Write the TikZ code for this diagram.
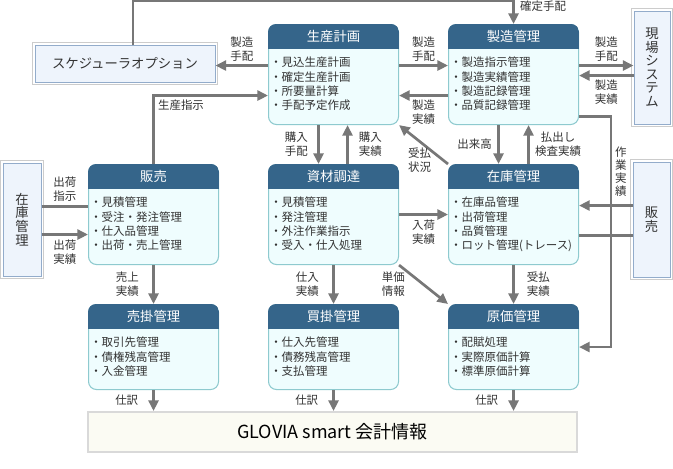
\documentclass[tikz,border=0pt]{standalone}
\usepackage{fontspec}
\setmainfont{Noto Sans CJK JP}
\usetikzlibrary{arrows.meta}
\definecolor{hdrblue}{HTML}{35658A}
\definecolor{bodyfill}{HTML}{EFFDFE}
\definecolor{bodyline}{HTML}{8ECACF}
\definecolor{arrowgray}{HTML}{777777}
\definecolor{extfill}{HTML}{EEF4FC}
\definecolor{extline}{HTML}{93ACCB}
\definecolor{txtgray}{HTML}{333333}
\definecolor{glvfill}{HTML}{FBFBF3}
\begin{document}
\begin{tikzpicture}[x=0.75pt,y=-0.75pt,
  modbox/.style={draw=bodyline,fill=bodyfill,line width=0.8pt,rounded corners=6pt,
    minimum width=97.5pt,minimum height=75pt,inner sep=0pt,anchor=north west},
  lowbox/.style={modbox,minimum height=63.75pt},
  hdrtext/.style={text=white,font=\fontsize{10}{12}\selectfont},
  items/.style={anchor=north west,align=left,inner sep=0pt,text=txtgray,
    font=\fontsize{8.6}{10.7}\selectfont},
  extbox/.style={draw=extline,fill=extfill,line width=0.75pt,inner sep=0pt,
    text=txtgray,font=\fontsize{10}{10.2}\selectfont,align=center},
  glvbox/.style={draw=black!15,fill=glvfill,line width=1.5pt,inner sep=0pt,
    minimum width=366.75pt,minimum height=30pt,font=\fontsize{13.5}{16}\selectfont},
  arr/.style={draw=arrowgray,line width=2pt,-{Triangle[length=8pt,width=7.5pt]}},
  ln/.style={draw=arrowgray,line width=2pt},
  lbl/.style={text=txtgray,font=\fontsize{8.6}{10.5}\selectfont,align=center,inner sep=1pt}]
  \useasboundingbox (0,0) rectangle (673,468);
  \fill[white] (0,0) rectangle (673,468);
  % module boxes
  \node[modbox] (plan) at (268,24) {};
  \node[modbox] (mfg) at (448,24) {};
  \node[modbox] (sales) at (88,164) {};
  \node[modbox] (proc) at (268,164) {};
  \node[modbox] (stock) at (448,164) {};
  \node[lowbox] (recv) at (88,304) {};
  \node[lowbox] (pay) at (268,304) {};
  \node[lowbox] (cost) at (448,304) {};
  \foreach \n/\t in {plan/生産計画,mfg/製造管理,sales/販売,proc/資材調達,
      stock/在庫管理,recv/売掛管理,pay/買掛管理,cost/原価管理} {
    \begin{scope}
      \clip[rounded corners=6pt] (\n.north west) rectangle (\n.south east);
      \fill[hdrblue] (\n.north west) rectangle ([shift={(0,25)}]\n.north east);
    \end{scope}
    \node[hdrtext] (\n-title) at ([shift={(0,12.5)}]\n.north) {\t};
  }
  \node[items] (plan-list) at ([shift={(2,33)}]plan.north west)
    {・見込生産計画\\・確定生産計画\\・所要量計算\\・手配予定作成};
  \node[items] (mfg-list) at ([shift={(2,33)}]mfg.north west)
    {・製造指示管理\\・製造実績管理\\・製造記録管理\\・品質記録管理};
  \node[items] (sales-list) at ([shift={(2,33)}]sales.north west)
    {・見積管理\\・受注・発注管理\\・仕入品管理\\・出荷・売上管理};
  \node[items] (proc-list) at ([shift={(2,33)}]proc.north west)
    {・見積管理\\・発注管理\\・外注作業指示\\・受入・仕入処理};
  \node[items] (stock-list) at ([shift={(2,33)}]stock.north west)
    {・在庫品管理\\・出荷管理\\・品質管理\\・ロット管理(トレース)};
  \node[items] (recv-list) at ([shift={(2,33)}]recv.north west)
    {・取引先管理\\・債権残高管理\\・入金管理};
  \node[items] (pay-list) at ([shift={(2,33)}]pay.north west)
    {・仕入先管理\\・債務残高管理\\・支払管理};
  \node[items] (cost-list) at ([shift={(2,33)}]cost.north west)
    {・配賦処理\\・実際原価計算\\・標準原価計算};
  % outside systems
  \node[extbox,minimum width=135pt,minimum height=27.75pt] (sched) at (125,63.5) {スケジューラオプション};
  \node[extbox,minimum width=27pt,minimum height=84.75pt] (site) at (652,67.5) {現\\場\\シ\\ス\\テ\\ム};
  \node[extbox,minimum width=27.75pt,minimum height=86.25pt] (extsales) at (651.5,219.5) {販\\売};
  \node[extbox,minimum width=28.5pt,minimum height=84.75pt] (extstock) at (22,219.5) {在\\庫\\管\\理};
  \foreach \n in {sched,site,extsales,extstock}
    \draw[black!20,line width=0.75pt] ([shift={(-2,-2)}]\n.north west) rectangle ([shift={(2,2)}]\n.south east);
  \node[glvbox] (glovia) at (332.5,432) {GLOVIA smart 会計情報};
  % connectors, top row
  \draw[arr] ([shift={(8,0)}]sched.north) -- ++(0,-43.5) -| (mfg.north)
    node[lbl,pos=0.62,right=3pt] (l-fix) {確定手配};
  \draw[arr] ([shift={(0,-9)}]plan.west) -- ([shift={(0,-9)}]plan.west -| sched.east)
    node[lbl,midway,above=1pt] (l-ps) {製造\\手配};
  \draw[arr] (sales.north) |- ([shift={(0,21)}]plan.west)
    node[lbl,pos=0.62,below=1pt] (l-si) {生産指示};
  \draw[arr] ([shift={(0,-9)}]plan.east) -- ([shift={(0,-9)}]mfg.west)
    node[lbl,midway,above=1pt] (l-pm) {製造\\手配};
  \draw[arr] ([shift={(0,21)}]mfg.west) -- ([shift={(0,21)}]plan.east)
    node[lbl,midway,below=1pt] (l-mp) {製造\\実績};
  \draw[arr] ([shift={(0,-9)}]mfg.east) -- ([shift={(0,-9)}]mfg.east -| site.west)
    node[lbl,midway,above=1pt] (l-ms) {製造\\手配};
  \draw[arr] ([shift={(0,1)}]site.west |- mfg.east) -- ([shift={(0,1)}]mfg.east)
    node[lbl,midway,below=1pt] (l-sm) {製造\\実績};
  \draw[arr] ([shift={(0,42)}]mfg.east) -- ++(32,0) |- (cost.east)
    node[lbl,pos=0.12,right=1pt,font=\fontsize{8.6}{9.8}\selectfont] (l-work) {作\\業\\実\\績};
  % connectors, middle row
  \draw[arr] ([shift={(-15,0)}]mfg.south) -- ([shift={(-15,0)}]stock.north)
    node[lbl,midway,left=3pt] (l-out) {出来高};
  \draw[arr] ([shift={(15,0)}]stock.north) -- ([shift={(15,0)}]mfg.south)
    node[lbl,midway,right=3pt] (l-chk) {払出し\\検査実績};
  \draw[arr] (stock.north west) -- (plan.south east)
    node[lbl,pos=0.1,left=7pt] (l-st) {受払\\状況};
  \draw[arr] ([shift={(-15,0)}]plan.south) -- ([shift={(-15,0)}]proc.north)
    node[lbl,midway,left=6pt] (l-buy) {購入\\手配};
  \draw[arr] ([shift={(14,0)}]proc.north) -- ([shift={(14,0)}]plan.south)
    node[lbl,midway,right=6.5pt] (l-bought) {購入\\実績};
  \draw[arr] ([shift={(0,-9)}]stock.east -| extsales.west) -- ([shift={(0,-9)}]stock.east);
  \draw[ln] ([shift={(0,21)}]stock.east) -- ([shift={(0,21)}]stock.east -| extsales.west);
  \draw[ln] ([shift={(0,-8)}]sales.west -| extstock.east) -- ([shift={(0,-8)}]sales.west)
    node[lbl,midway,above=2pt] (l-ship) {出荷\\指示};
  \draw[arr] ([shift={(0,20)}]sales.west -| extstock.east) -- ([shift={(0,20)}]sales.west)
    node[lbl,midway,below=2pt] (l-shipped) {出荷\\実績};
  \draw[arr] (proc.east) -- (stock.west)
    node[lbl,midway,below=2pt] (l-in) {入荷\\実績};
  % connectors, bottom row
  \draw[arr] (sales.south) -- (recv.north)
    node[lbl,midway,left=9pt] (l-sold) {売上\\実績};
  \draw[arr] (proc.south) -- (pay.north)
    node[lbl,midway,left=9pt] (l-purch) {仕入\\実績};
  \draw[arr] (proc.south east) -- (cost.north west)
    node[lbl,midway,left=12pt] (l-price) {単価\\情報};
  \draw[arr] (stock.south) -- (cost.north)
    node[lbl,midway,right=8pt] (l-move) {受払\\実績};
  \draw[arr] (recv.south) -- (recv.south |- glovia.north)
    node[lbl,midway,left=9.5pt] (l-j1) {仕訳};
  \draw[arr] (pay.south) -- (pay.south |- glovia.north)
    node[lbl,midway,left=9.5pt] (l-j2) {仕訳};
  \draw[arr] (cost.south) -- (cost.south |- glovia.north)
    node[lbl,midway,left=9.5pt] (l-j3) {仕訳};
\end{tikzpicture}
\end{document}
